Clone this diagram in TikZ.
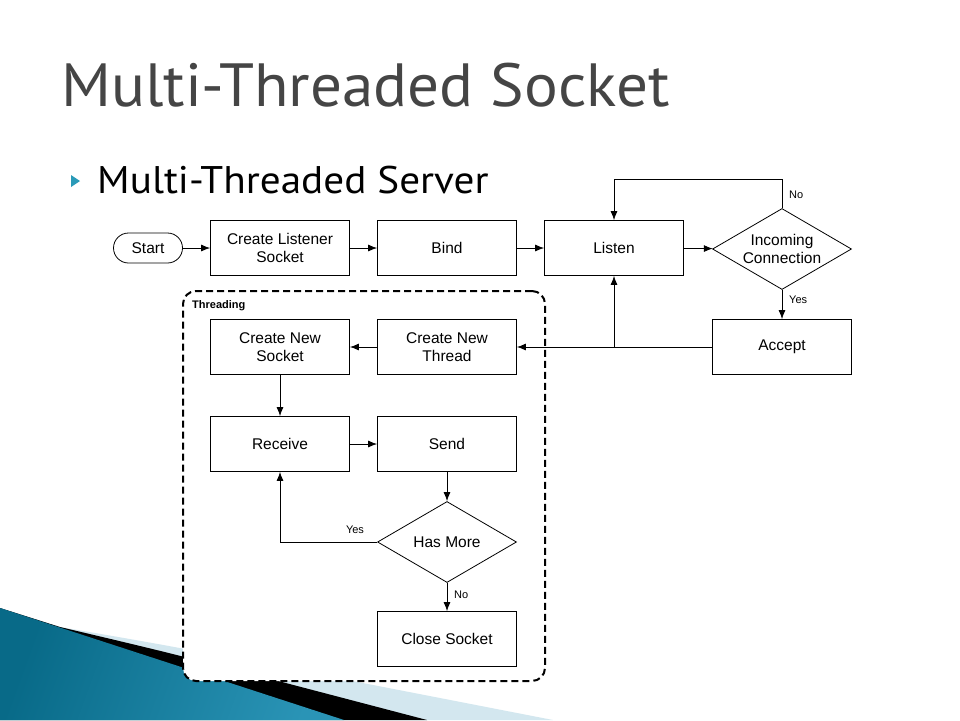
\documentclass[tikz,border=0pt]{standalone}
\usepackage{fontspec}
\setmainfont{Liberation Sans}
\newfontfamily\titlefont{PT Sans}
\usetikzlibrary{arrows.meta,shapes.geometric}
\definecolor{titlegray}{HTML}{454545}
\definecolor{bullet}{HTML}{2A9AB8}
\definecolor{tealdark}{HTML}{086A88}
\definecolor{tealmid}{HTML}{4AAFD0}
\definecolor{teallight}{HTML}{2A94B6}
\definecolor{paleblue}{HTML}{D3E7EF}
\begin{document}
\begin{tikzpicture}[x=1pt,y=-1pt,
  box/.style={draw=black, line width=0.8pt, fill=white, minimum width=139pt, minimum height=55pt,
    align=center, inner sep=0pt, font=\fontsize{15.5}{18}\selectfont},
  dia/.style={diamond, draw=black, line width=0.8pt, fill=white, minimum width=139pt, minimum height=81pt, inner sep=0pt},
  diatext/.style={align=center, font=\fontsize{15.5}{18}\selectfont},
  arr/.style={draw=black, line width=0.8pt, -{Latex[length=9pt,width=7pt]}},
  lbl/.style={font=\fontsize{11}{13}\selectfont, inner sep=1pt},
  frame/.style={draw=black, line width=2pt, dash pattern=on 7pt off 4pt, rounded corners=13pt, fill=white,
    minimum width=362pt, minimum height=390pt}
]
\useasboundingbox (0,0) rectangle (960,720);
\fill[white] (0,0) rectangle (960,720);
% background swoosh
\fill[paleblue] (0,608) -- (60,627) .. controls (183,648) .. (553,720) -- (0,720) -- cycle;
\fill[black] (0,608) -- (60,627) .. controls (183,656) .. (427,720) -- (0,720) -- cycle;
\shade[left color=tealdark, middle color=tealmid, right color=teallight, shading angle=70] (0,608) -- (344,720) -- (0,720) -- cycle;
% title
\node[anchor=base west, inner sep=0pt, text=titlegray, xscale=1.035, font=\titlefont\fontsize{61}{66}\selectfont] (title) at (61,106) {Multi-Threaded Socket};
% subtitle
\fill[bullet] (71,175) -- (80,181) -- (71,187) -- cycle;
\node[anchor=base west, inner sep=0pt, xscale=1.07, font=\titlefont\fontsize{38.5}{44}\selectfont] (sub) at (97,193) {Multi-Threaded Server};
% threading frame
\node[frame] (thr) at (364,486) {};
\node[anchor=north west, font=\bfseries\fontsize{11}{13}\selectfont, inner sep=0pt] (thrl) at (192,300) {Threading};
% nodes
\node[draw=black, line width=0.8pt, fill=white, rounded corners=15pt, minimum width=69pt, minimum height=30pt, inner sep=0pt, font=\fontsize{15.5}{18}\selectfont] (start) at (148,248) {Start};
\node[box] (cls) at (280,248) {Create Listener\\Socket};
\node[box] (bind) at (447,248) {Bind};
\node[box] (listen) at (614,248) {Listen};
\node[dia] (inc) at (782,249) {};
\node[diatext] (inct) at (inc.center) {Incoming\\Connection};
\node[box] (accept) at (782,347) {Accept};
\node[box] (cnt) at (447,347) {Create New\\Thread};
\node[box] (cns) at (280,347) {Create New\\Socket};
\node[box] (recv) at (280,444) {Receive};
\node[box] (send) at (447,444) {Send};
\node[dia] (hm) at (447,542) {};
\node[diatext] (hmt) at (hm.center) {Has More};
\node[box] (close) at (447,639) {Close Socket};
% connectors
\draw[arr] (start) -- (cls);
\draw[arr] (cls) -- (bind);
\draw[arr] (bind) -- (listen);
\draw[arr] (listen) -- (inc);
\draw[arr] (inc.north) -- ++(0,-29) -| (listen.north);
\node[lbl, anchor=west] (no1) at (788,195) {No};
\draw[arr] (inc.south) -- (accept.north);
\node[lbl, anchor=west] (yes1) at (788,300) {Yes};
\coordinate (j) at (listen.south |- accept.west);
\draw[arr] (accept.west) -- (cnt.east);
\draw[arr] (j) -- (listen.south);
\draw[arr] (cnt) -- (cns);
\draw[arr] (cns) -- (recv);
\draw[arr] (recv) -- (send);
\draw[arr] (send) -- (hm);
\draw[arr] (hm.west) -| (recv.south);
\node[lbl, anchor=center] (yes2) at (355,530) {Yes};
\draw[arr] (hm.south) -- (close.north);
\node[lbl, anchor=west] (no2) at (453,595) {No};
\end{tikzpicture}
\end{document}
